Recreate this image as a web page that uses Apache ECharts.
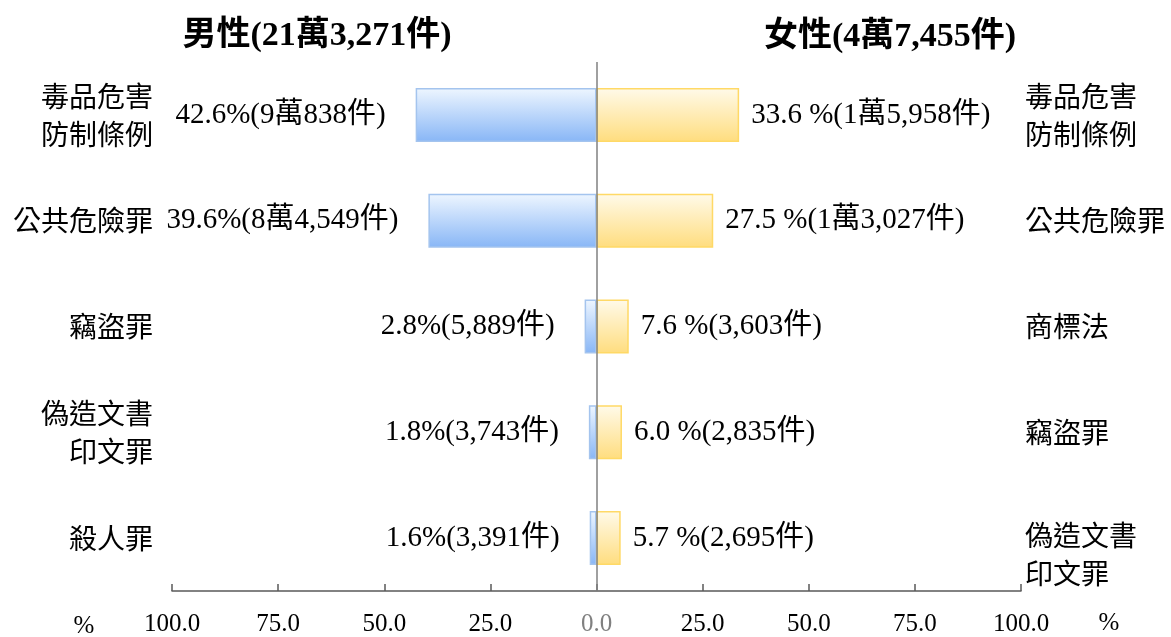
<!DOCTYPE html>
<html><head><meta charset="utf-8">
<script src="https://cdn.jsdelivr.net/npm/echarts@6/dist/echarts.min.js"></script>
<style>html,body{margin:0;padding:0;background:#fff}#c{width:1171px;height:637px}</style>
</head><body><div id="c"></div>
<script>
const maleTitle = '男性(21萬3,271件)';
const femaleTitle = '女性(4萬7,455件)';
const maleCategories = ['毒品危害\n防制條例', '公共危險罪', '竊盜罪', '偽造文書\n印文罪', '殺人罪'];
const malePct = [42.6, 39.6, 2.8, 1.8, 1.6];
const maleCounts = ['9萬838', '8萬4,549', '5,889', '3,743', '3,391'];
const femaleCategories = ['毒品危害\n防制條例', '公共危險罪', '商標法', '竊盜罪', '偽造文書\n印文罪'];
const femalePct = [33.6, 27.5, 7.6, 6.0, 5.7];
const femaleCounts = ['1萬5,958', '1萬3,027', '3,603', '2,835', '2,695'];
const xTicks = [-100, -75, -50, -25, 0, 25, 50, 75, 100];

const FONT = "'Liberation Serif', 'Noto Sans CJK TC', serif";
const CJK = "'Noto Sans CJK TC', serif";
const chart = echarts.init(document.getElementById('c'), null, {renderer: 'canvas'});

const blueGrad = new echarts.graphic.LinearGradient(0, 0, 0, 1, [
  {offset: 0, color: '#eef6ff'}, {offset: 1, color: '#88b6f6'}]);
const yellowGrad = new echarts.graphic.LinearGradient(0, 0, 0, 1, [
  {offset: 0, color: '#fffaea'}, {offset: 1, color: '#ffdd7e'}]);

chart.setOption({
  animation: false,
  backgroundColor: '#ffffff',
  grid: {left: 172, right: 150, top: 62, bottom: 42, containLabel: false},
  xAxis: {
    type: 'value', min: xTicks[0], max: xTicks[xTicks.length - 1], interval: 25,
    splitLine: {show: false},
    axisLine: {show: true, lineStyle: {color: '#595959', width: 1.5}},
    axisTick: {show: true, inside: true, length: 7, lineStyle: {color: '#595959', width: 1.5}},
    axisLabel: {
      margin: 21, fontFamily: FONT, fontSize: 25,
      color: (v) => (Number(v) === 0 ? '#808080' : '#000'),
      formatter: (v) => Math.abs(v).toFixed(1)
    }
  },
  yAxis: [
    {type: 'category', data: maleCategories, inverse: true, position: 'left',
     axisLine: {show: false}, axisTick: {show: false}, splitLine: {show: false},
     axisLabel: {margin: 19, align: 'right', fontFamily: CJK, fontSize: 28, lineHeight: 38, color: '#000'}},
    {type: 'category', data: femaleCategories, inverse: true, position: 'right',
     axisLine: {show: false}, axisTick: {show: false}, splitLine: {show: false},
     axisLabel: {
       margin: 4, align: 'left', fontFamily: CJK, fontSize: 28, lineHeight: 38, color: '#000',
       formatter: (v, i) => {
         if (i !== femaleCategories.length - 1) return v;
         return '{s| }\n' + v.split('\n').map(t => '{a|' + t + '}').join('\n');
       },
       rich: {
         s: {fontSize: 10, lineHeight: 32},
         a: {fontFamily: CJK, fontSize: 28, lineHeight: 38, color: '#000'}
       }
     }}
  ],
  series: [
    {
      name: '男性', type: 'bar', yAxisIndex: 0, barWidth: '51%', barGap: '-100%',
      data: malePct.map(v => -v),
      itemStyle: {color: blueGrad, borderColor: '#a4c4ee', borderWidth: 1.5},
      label: {
        show: true, position: 'left', distance: 30, fontFamily: FONT, fontSize: 29, color: '#000',
        formatter: (p) => malePct[p.dataIndex].toFixed(1) + '%(' + maleCounts[p.dataIndex] + '件)'
      },
      markLine: {
        silent: true, symbol: 'none', label: {show: false},
        lineStyle: {color: '#808080', width: 1.5, type: 'solid'},
        data: [{xAxis: 0}]
      }
    },
    {
      name: '女性', type: 'bar', yAxisIndex: 1, barWidth: '51%', barGap: '-100%',
      data: femalePct,
      itemStyle: {color: yellowGrad, borderColor: '#ffd966', borderWidth: 1.5},
      label: {
        show: true, position: 'right', distance: 12, fontFamily: FONT, fontSize: 29, color: '#000',
        formatter: (p) => femalePct[p.dataIndex].toFixed(1) + ' %(' + femaleCounts[p.dataIndex] + '件)'
      }
    }
  ],
  graphic: [
    {type: 'text', x: 317, y: 36, style: {text: maleTitle, font: 'bold 34px ' + FONT, fill: '#000', align: 'center', verticalAlign: 'middle'}},
    {type: 'text', x: 890, y: 37, style: {text: femaleTitle, font: 'bold 34px ' + FONT, fill: '#000', align: 'center', verticalAlign: 'middle'}},
    {type: 'text', x: 84, y: 626, style: {text: '%', font: '25px ' + FONT, fill: '#000', align: 'center', verticalAlign: 'middle'}},
    {type: 'text', x: 1109, y: 623, style: {text: '%', font: '25px ' + FONT, fill: '#000', align: 'center', verticalAlign: 'middle'}}
  ]
});
</script></body></html>
